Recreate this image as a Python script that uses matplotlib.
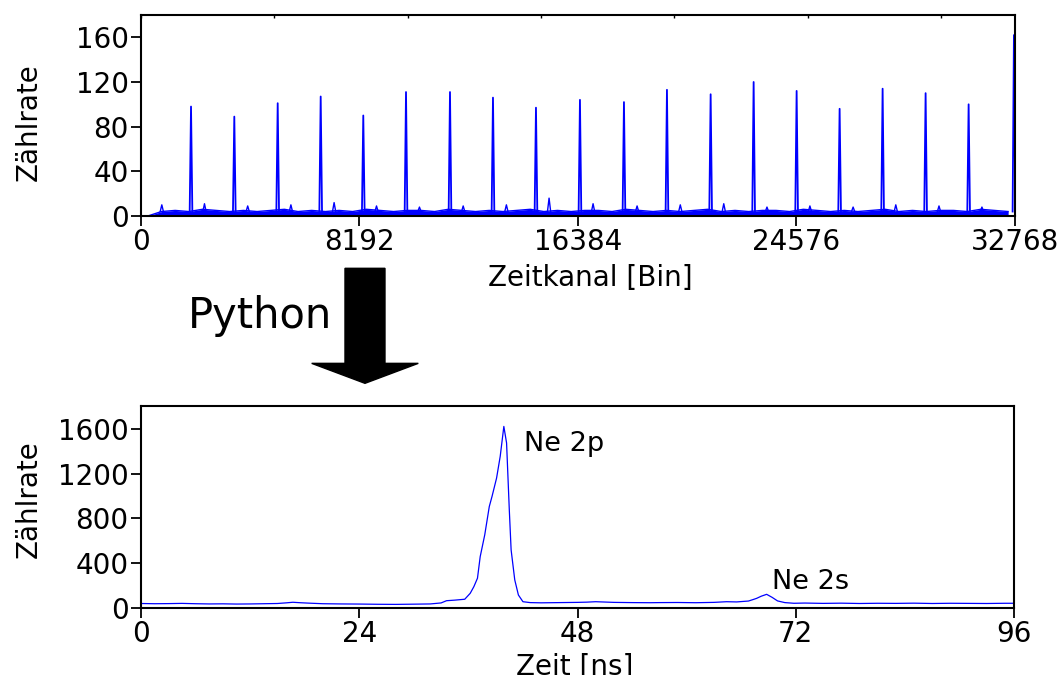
import numpy as np
import matplotlib.pyplot as plt
from matplotlib.patches import FancyArrow

# --- Rohdaten oben: Zeitkanal-Spektrum ---
peak_bins = [1875, 3498, 5125, 6737, 8334, 9936, 11585, 13197, 14809, 16458,
             18108, 19720, 21358, 22970, 24582, 26194, 27806, 29418, 31031, 32730]
peak_counts = [98, 89, 101, 107, 90, 111, 111, 106, 97, 104,
               102, 113, 109, 120, 112, 96, 114, 110, 100, 162]
bump_bins = [780, 2380, 4000, 5620, 7240, 8830, 10440, 12080, 13700, 15300,
             16950, 18600, 20220, 21850, 23470, 25080, 26700, 28300, 29920, 31530]
bump_counts = [10, 11, 9, 10, 12, 9, 8, 9, 10, 16,
               11, 9, 10, 11, 8, 9, 8, 10, 9, 8]
base_bins = np.arange(256, 32768, 512)
base_counts = [0, 4, 5, 4, 6, 5, 4, 5, 4, 5, 6, 4, 5, 4, 5, 4,
               6, 5, 4, 5, 5, 4, 6, 5, 4, 5, 4, 5, 6, 4, 5, 4,
               5, 5, 4, 6, 5, 4, 5, 4, 5, 6, 4, 5, 4, 5, 5, 4,
               6, 5, 4, 5, 4, 5, 6, 4, 5, 4, 5, 5, 4, 6, 5, 4]
top_xticks = [0, 8192, 16384, 24576, 32768]
top_yticks = [0, 40, 80, 120, 160]

# --- umgerechnet unten: Flugzeitspektrum ---
zeit = [0, 1.5, 3, 4.5, 6, 7.5, 9, 10.5, 12, 13.5,
        15, 16, 16.7, 17.5, 18.5, 20, 22, 24, 26, 28,
        30, 31.8, 33, 33.6, 34.5, 35.6, 36.2, 36.6, 37.0, 37.3,
        37.8, 38.3, 38.6, 39.1, 39.5, 39.9, 40.2, 40.5, 40.7, 41.1,
        41.5, 42.0, 42.8, 44, 46, 48, 49, 50, 52, 54,
        56, 57, 59, 61, 63, 64.4, 65.5, 66.8, 67.3, 67.7,
        68.2, 68.8, 69.4, 70.0, 70.8, 71.8, 73, 75, 77, 79,
        81, 83, 85, 87, 89, 91, 93, 95, 96]
rate = [40, 38, 39, 41, 38, 36, 37, 35, 36, 38,
        40, 46, 51, 47, 43, 38, 36, 35, 33, 32,
        34, 36, 45, 65, 70, 78, 131, 190, 266, 459,
        654, 907, 997, 1161, 1355, 1623, 1475, 877, 519, 251,
        116, 56, 48, 46, 48, 50, 52, 56, 50, 48,
        47, 48, 49, 47, 50, 56, 54, 62, 75, 86,
        105, 122, 95, 63, 48, 42, 44, 41, 43, 40,
        42, 41, 43, 40, 42, 41, 40, 42, 42]
bot_xticks = [0, 24, 48, 72, 96]
bot_yticks = [0, 400, 800, 1200, 1600]

plt.rcParams['font.family'] = 'DejaVu Sans'
plt.rcParams['font.size'] = 20

fig = plt.figure(figsize=(10.61, 6.75), dpi=100)
ax1 = fig.add_axes([0.1329, 0.68, 0.8237, 0.2978])
ax2 = fig.add_axes([0.1329, 0.0993, 0.8228, 0.2993])

# oben
ax1.fill_between(base_bins, 0, base_counts, color='blue', lw=0)
ax1.plot(base_bins, base_counts, color='blue', lw=1)
for b, c in zip(bump_bins, bump_counts):
    ax1.plot([b - 60, b, b + 60], [4, c, 4], color='blue', lw=1)
for b, c in zip(peak_bins, peak_counts):
    ax1.plot([b - 50, b, b + 50], [4, c, 4], color='blue', lw=1.3)
ax1.set_xlim(0, 32768)
ax1.set_ylim(0, 180)
ax1.set_xticks(top_xticks)
ax1.set_yticks(top_yticks)
ax1.set_xlabel('Zeitkanal [Bin]')
ax1.set_ylabel('Zählrate')
ax1.xaxis.set_label_coords(0.514, -0.239)
ax1.yaxis.set_label_coords(-0.113, 0.465)
sec = ax1.secondary_xaxis('top')
sec.set_xticks(np.arange(0, 32769, 5000))
sec.tick_params(direction='in', length=2, width=1, labeltop=False)

# unten
ax2.plot(zeit, rate, color='blue', lw=0.9)
ax2.set_xlim(0, 96)
ax2.set_ylim(0, 1806)
ax2.set_xticks(bot_xticks)
ax2.set_yticks(bot_yticks)
ax2.set_xlabel('Zeit [ns]')
ax2.set_ylabel('Zählrate')
ax2.xaxis.set_label_coords(0.497, -0.222)
ax2.yaxis.set_label_coords(-0.113, 0.54)
ax2.text(42.1, 1399, 'Ne 2p', fontsize=19.5)
ax2.text(69.35, 167, 'Ne 2s', fontsize=19.5)

for ax in (ax1, ax2):
    for s in ax.spines.values():
        s.set_linewidth(1.5)
    ax.tick_params(direction='out', length=7, width=1.3, pad=2, labelsize=20)

for s in sec.spines.values():
    s.set_visible(False)

# Pfeil + Python
fig.patches.append(FancyArrow(0.344, 0.6025, 0, -0.1704, width=0.0377,
                              head_width=0.1005, head_length=0.0296,
                              length_includes_head=True, color='black',
                              transform=fig.transFigure, figure=fig))
fig.text(0.3134, 0.5136, 'Python', fontsize=30, ha='right', va='baseline')

fig.savefig('out.png', dpi=100)
